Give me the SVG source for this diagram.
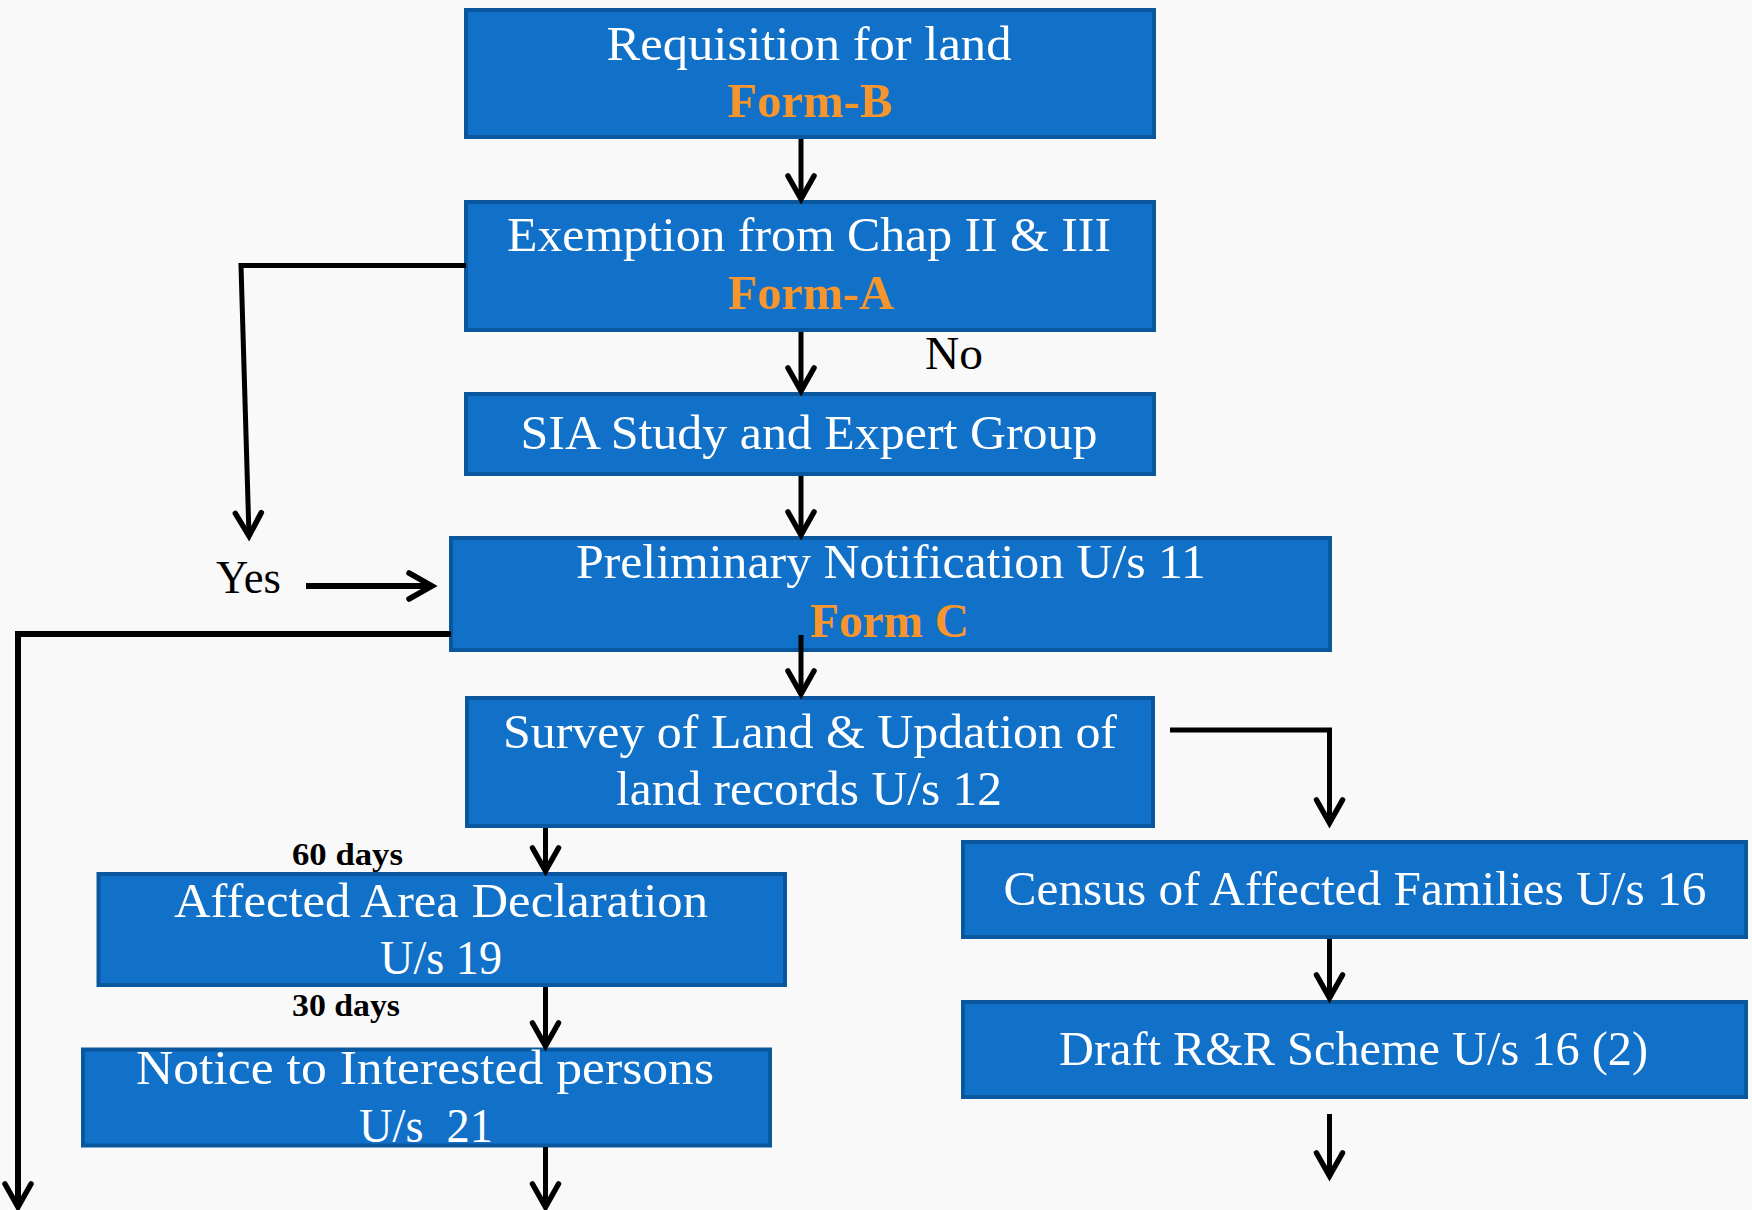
<svg xmlns="http://www.w3.org/2000/svg" width="1752" height="1210" viewBox="0 0 1752 1210">
<defs>
<marker id="ah" markerUnits="userSpaceOnUse" markerWidth="40" markerHeight="40" viewBox="-30 -20 40 40" refX="0" refY="0" orient="auto" overflow="visible">
<path d="M-23,-13 L0,0 L-23,13" fill="none" stroke="#000" stroke-width="5.5" stroke-linecap="round" stroke-linejoin="miter"/>
</marker>
<style>
.box{fill:#1170c8;stroke:#0b579e;stroke-width:4}
.t{font-family:"Liberation Serif","Times New Roman",serif;font-size:48px;fill:#fff;text-anchor:middle}
.f{font-family:"Liberation Serif","Times New Roman",serif;font-size:48px;font-weight:bold;fill:#f7962f;text-anchor:middle}
.k{font-family:"Liberation Serif","Times New Roman",serif;font-size:46px;fill:#000;text-anchor:middle}
.d{font-family:"Liberation Serif","Times New Roman",serif;font-size:32px;font-weight:bold;fill:#000;text-anchor:middle}
.c{fill:none;stroke:#000;stroke-width:5}
.ca{fill:none;stroke:#000;stroke-width:5;marker-end:url(#ah)}
</style>
</defs>
<rect x="0" y="0" width="1752" height="1210" fill="#f9f9f9"/>
<g id="n1">
<rect class="box" x="466" y="10" width="688" height="127"/>
<text class="t" x="809" y="60" textLength="405" lengthAdjust="spacingAndGlyphs">Requisition for land</text>
<text class="f" x="810" y="117" textLength="165" lengthAdjust="spacingAndGlyphs">Form-B</text>
</g>
<g id="n2">
<rect class="box" x="466" y="202" width="688" height="128"/>
<text class="t" x="809" y="251" textLength="604" lengthAdjust="spacingAndGlyphs">Exemption from Chap II &amp; III</text>
<text class="f" x="811" y="309" textLength="166" lengthAdjust="spacingAndGlyphs">Form-A</text>
</g>
<g id="n3">
<rect class="box" x="466" y="394" width="688" height="80"/>
<text class="t" x="809" y="449" textLength="577" lengthAdjust="spacingAndGlyphs">SIA Study and Expert Group</text>
</g>
<g id="n4">
<rect class="box" x="451" y="538" width="879" height="112"/>
<text class="t" x="891" y="578" textLength="630" lengthAdjust="spacingAndGlyphs">Preliminary Notification U/s 11</text>
<text class="f" x="889.5" y="637" textLength="159" lengthAdjust="spacingAndGlyphs">Form C</text>
</g>
<g id="n5">
<rect class="box" x="467" y="698" width="686" height="128"/>
<text class="t" x="810" y="748" textLength="614" lengthAdjust="spacingAndGlyphs">Survey of Land &amp; Updation of</text>
<text class="t" x="809" y="805" textLength="386" lengthAdjust="spacingAndGlyphs">land records U/s 12</text>
</g>
<g id="n6">
<rect class="box" x="98.5" y="874" width="686.5" height="111"/>
<text class="t" x="441" y="917" textLength="534" lengthAdjust="spacingAndGlyphs">Affected Area Declaration</text>
<text class="t" x="441" y="974" textLength="122" lengthAdjust="spacingAndGlyphs">U/s 19</text>
</g>
<g id="n7">
<rect class="box" x="83" y="1049.5" width="687" height="96"/>
<text class="t" x="425" y="1084" textLength="578" lengthAdjust="spacingAndGlyphs">Notice to Interested persons</text>
<text class="t" x="426" y="1142" textLength="134" lengthAdjust="spacingAndGlyphs" xml:space="preserve">U/s  21</text>
</g>
<g id="n8">
<rect class="box" x="963" y="842" width="783" height="95"/>
<text class="t" x="1355" y="905" textLength="703" lengthAdjust="spacingAndGlyphs">Census of Affected Families U/s 16</text>
</g>
<g id="n9">
<rect class="box" x="963" y="1002" width="783" height="95"/>
<text class="t" x="1353.5" y="1065" textLength="589" lengthAdjust="spacingAndGlyphs">Draft R&amp;R Scheme U/s 16 (2)</text>
</g>
<g id="labels">
<text class="k" x="954" y="369" textLength="58" lengthAdjust="spacingAndGlyphs">No</text>
<text class="k" x="248.5" y="593" textLength="65" lengthAdjust="spacingAndGlyphs">Yes</text>
<text class="d" x="347.5" y="865" textLength="111" lengthAdjust="spacingAndGlyphs">60 days</text>
<text class="d" x="346" y="1016" textLength="108" lengthAdjust="spacingAndGlyphs">30 days</text>
</g>
<g id="connectors">
<path class="ca" d="M801,139 V199"/>
<path class="ca" d="M801,332 V391"/>
<path class="ca" d="M801,476 V535"/>
<path class="ca" d="M801,635 V694"/>
<path class="ca" d="M545.5,828 V871"/>
<path class="ca" d="M545.5,987 V1046"/>
<path class="ca" d="M545.5,1147 V1207"/>
<path class="ca" d="M466,265.5 H241 L249,536"/>
<path class="ca" d="M451,634 H18 V1207" style="stroke-width:6"/>
<path class="ca" d="M306,586 H432" style="stroke-width:6"/>
<path class="ca" d="M1170,730 H1329.5 V823"/>
<path class="ca" d="M1329.5,939 V998"/>
<path class="ca" d="M1329.5,1114 V1176"/>
</g>
</svg>
